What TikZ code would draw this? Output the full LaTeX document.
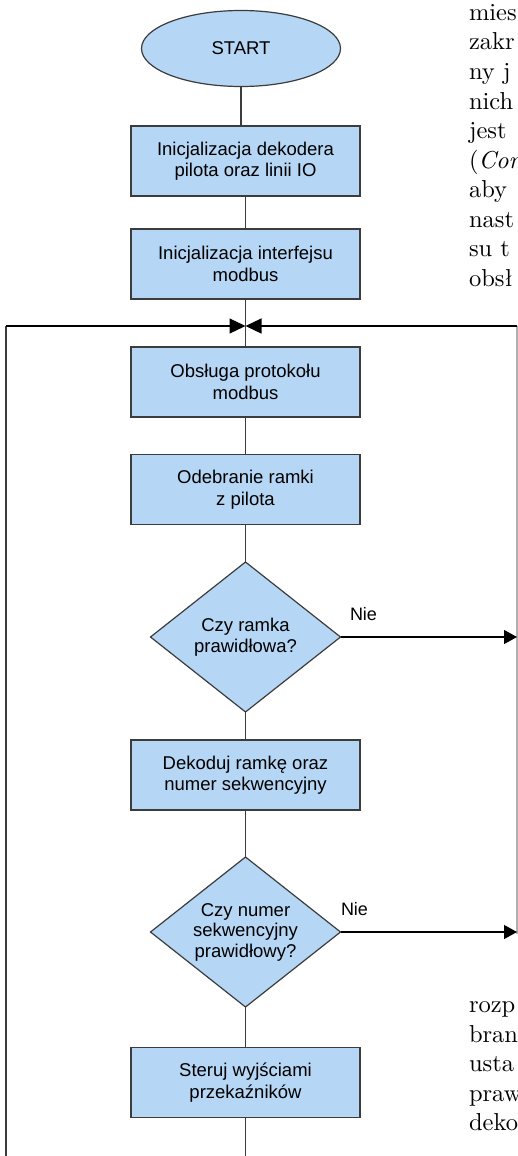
\documentclass[tikz,border=0pt]{standalone}
\usepackage{fontspec}
\newfontfamily\boxfont{Liberation Sans}
\newfontfamily\pagefont{lmroman10-regular}[Extension=.otf,ItalicFont=lmroman10-italic]
\usetikzlibrary{shapes.geometric,arrows.meta}
\definecolor{boxblue}{RGB}{181,214,244}
\definecolor{linec}{RGB}{60,60,60}
\definecolor{lightline}{RGB}{175,175,175}
\begin{document}
\begin{tikzpicture}[x=1pt,y=-1pt,
  every node/.style={inner sep=0pt,outer sep=0pt},
  proc/.style={draw=linec,line width=1.2pt,fill=boxblue,minimum width=229pt,minimum height=70pt,align=center,font=\boxfont\fontsize{18.5}{21.5}\selectfont},
  term/.style={ellipse,draw=linec,line width=1.2pt,fill=boxblue,minimum width=199pt,minimum height=76pt,font=\boxfont\fontsize{18.5}{21.5}\selectfont},
  decision/.style={diamond,aspect=1.27,draw=linec,line width=1.2pt,fill=boxblue,minimum width=190pt,minimum height=150pt,align=center,font=\boxfont\fontsize{18.5}{20.5}\selectfont},
  conn/.style={draw=linec,line width=1.2pt},
  hconn/.style={draw=black,line width=1.2pt},
  rconn/.style={draw=lightline,line width=1.5pt},
  bighead/.style={-{Triangle[length=16pt,width=15pt]}},
  smallhead/.style={-{Triangle[length=13pt,width=14pt]}},
  lbl/.style={font=\boxfont\fontsize{18}{20}\selectfont},
  pagetext/.style={anchor=base west,font=\pagefont\fontsize{24.5}{29.5}\selectfont}
]
\useasboundingbox (0,0) rectangle (518,1156);
\begin{scope}
\clip (0,0) rectangle (518,1156);

% nodes
\node[term] (start) at (241,48.5) {START};
\node[proc] (b1) at (245.5,161) {Inicjalizacja dekodera\\pilota oraz linii IO};
\node[proc] (b2) at (245.5,264) {Inicjalizacja interfejsu\\modbus};
\coordinate (j) at (245.5,326);
\node[proc] (b3) at (245.5,382) {Obsługa protokołu\\modbus};
\node[proc] (b4) at (245.5,489.5) {Odebranie ramki\\z pilota};
\node[decision] (d1) at (245.5,637) {Czy ramka\\prawidłowa?};
\node[proc] (b5) at (245.5,775) {Dekoduj ramkę oraz\\numer sekwencyjny};
\node[decision] (d2) at (245.5,932) {Czy numer\\sekwencyjny\\prawidłowy?};
\node[proc] (b6) at (245.5,1082.5) {Steruj wyjściami\\przekaźników};
\coordinate (bot) at (245.5,1160);
\coordinate (bl) at (6,1160);
\coordinate (tl) at (6,326);
\coordinate (tr) at (517,326);
\coordinate (r1) at (517,637);
\coordinate (r2) at (517,934);

% connectors
\draw[conn] (start.south) -- (start.south |- b1.north);
\draw[conn] (b1.south) -- (b2.north);
\draw[conn] (b2.south) -- (b3.north);
\draw[conn] (b3.south) -- (b4.north);
\draw[conn] (b4.south) -- (d1.north);
\draw[conn] (d1.south) -- (b5.north);
\draw[conn] (b5.south) -- (d2.north);
\draw[conn] (d2.south) -- (b6.north);
\draw[conn] (b6.south) -- (bot);
\draw[conn] (bl) -- (tl);
\draw[hconn,bighead] (tl) -- (j);
\draw[rconn] (r2) -- (tr);
\draw[hconn,bighead] (tr) -- (j);
\draw[hconn,smallhead] (d1.east) -- (r1);
\draw[hconn,smallhead] (d2.east) -- (r2 |- d2.east);
\node[lbl] (nie1) at (363.5,614) {Nie};
\node[lbl] (nie2) at (354.5,909) {Nie};

% page text fragments at the right edge
\node[pagetext] (t1) at (469,20.5) {mies};
\node[pagetext] (t2) at (469,50) {zakr};
\node[pagetext] (t3) at (469,79.5) {ny j};
\node[pagetext] (t4) at (469,109) {nich};
\node[pagetext] (t5) at (469,138.5) {jest};
\node[pagetext] (t6) at (469,168) {(\textit{Com}};
\node[pagetext] (t7) at (469,197.5) {aby};
\node[pagetext] (t8) at (469,227) {nast};
\node[pagetext] (t9) at (469,256.5) {su t};
\node[pagetext] (t10) at (469,286) {obsł};
\node[pagetext] (u1) at (469,1012.5) {rozp};
\node[pagetext] (u2) at (469,1042) {bran};
\node[pagetext] (u3) at (469,1071.5) {usta};
\node[pagetext] (u4) at (469,1101) {praw};
\node[pagetext] (u5) at (469,1130.5) {deko};
\end{scope}
\end{tikzpicture}
\end{document}
